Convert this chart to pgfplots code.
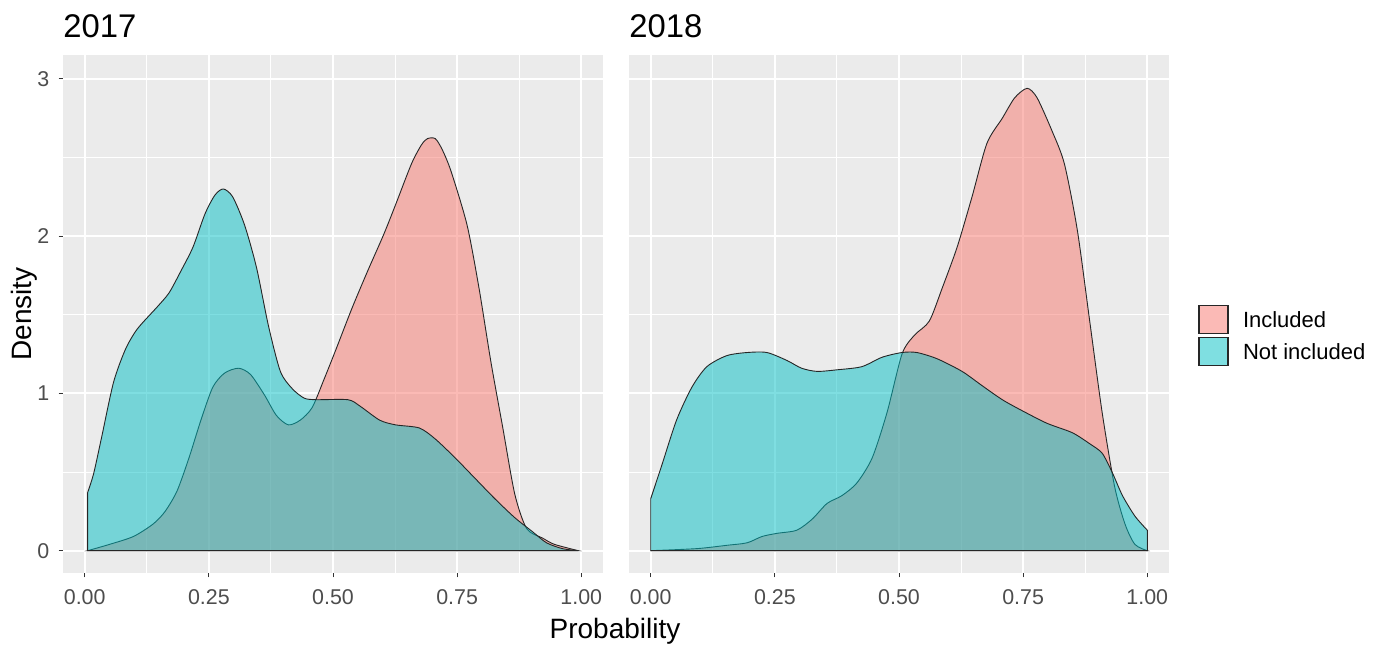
\documentclass[border=0pt]{standalone}
\usepackage{fontspec}
\setmainfont{Liberation Sans}
\usepackage{pgfplots}
\pgfplotsset{compat=1.18}
\definecolor{panelbg}{HTML}{EBEBEB}
\definecolor{incl}{HTML}{F8766D}
\definecolor{notincl}{HTML}{00BFC4}
\definecolor{ticklab}{HTML}{4D4D4D}
\definecolor{tickcol}{HTML}{333333}
\pgfplotsset{
  facet/.style={
    width=270pt, height=259pt, scale only axis,
    xmin=-0.0437, xmax=1.0437, ymin=-0.142, ymax=3.152,
    axis background/.style={fill=panelbg},
    axis line style={draw=none},
    xtick={0,0.25,0.5,0.75,1},
    ytick={0,1,2,3},
    minor xtick={0.125,0.375,0.625,0.875},
    minor ytick={0.5,1.5,2.5},
    grid=both,
    major grid style={white, line width=1.05pt},
    minor grid style={white, line width=0.5pt},
    minor tick length=0pt,
    major tick length=2.2pt,
    tick align=outside,
    xtick pos=lower, ytick pos=left,
    tick style={color=tickcol, line width=0.5pt},
    xticklabel style={font=\fontsize{10.7}{12}\selectfont, color=ticklab, inner sep=0pt, text depth=0pt, anchor=north, yshift=-6pt},
    yticklabel style={font=\fontsize{10.7}{12}\selectfont, color=ticklab, inner sep=0pt, text depth=0pt, anchor=east, xshift=-4.5pt},
    xticklabels={0.00,0.25,0.50,0.75,1.00},
    /pgf/number format/assume math mode=true,
    title style={at={(axis description cs:0,1.0332)}, anchor=base west, inner sep=0pt, yshift=-6pt, font=\fontsize{16.4}{19}\selectfont},
    every axis plot/.append style={line width=0.45pt, draw=black!85, fill opacity=0.5, smooth, tension=0.45},
  },
  inc/.style={fill=incl},
  notinc/.style={fill=notincl},
}
\begin{document}
\begin{tikzpicture}
\useasboundingbox (-31.5pt,-36.5pt) rectangle (655.5pt,286.5pt);
\begin{axis}[facet, title={2017},
  xlabel={Probability}, ylabel={Density},
  xlabel style={at={(axis description cs:1.0222,-0.1255)}, anchor=base, inner sep=0pt, font=\fontsize{14}{16}\selectfont},
  ylabel style={at={(axis description cs:-0.0722,0.5)}, anchor=center, rotate=0, inner sep=0pt, font=\fontsize{14}{16}\selectfont},
]
\addplot[inc] coordinates {(0.006,0) (0.05,0.04) (0.098,0.09) (0.138,0.17) (0.162,0.25) (0.186,0.38) (0.21,0.59) (0.234,0.83) (0.258,1.04) (0.282,1.13) (0.31,1.16) (0.334,1.12) (0.362,0.99) (0.386,0.86) (0.41,0.80) (0.434,0.83) (0.458,0.91) (0.482,1.09) (0.506,1.28) (0.538,1.54) (0.57,1.78) (0.602,2.01) (0.626,2.20) (0.658,2.46) (0.678,2.58) (0.69,2.62) (0.706,2.62) (0.72,2.55) (0.738,2.41) (0.77,2.07) (0.794,1.67) (0.818,1.20) (0.842,0.78) (0.866,0.36) (0.89,0.14) (0.922,0.08) (0.946,0.04) (0.994,0)} \closedcycle;
\addplot[notinc] coordinates {(0.006,0.37) (0.018,0.49) (0.034,0.72) (0.058,1.07) (0.082,1.28) (0.106,1.41) (0.146,1.55) (0.17,1.64) (0.194,1.78) (0.218,1.93) (0.242,2.14) (0.262,2.26) (0.279,2.30) (0.298,2.25) (0.322,2.07) (0.346,1.80) (0.37,1.43) (0.394,1.14) (0.418,1.03) (0.442,0.97) (0.466,0.96) (0.53,0.96) (0.554,0.92) (0.594,0.83) (0.626,0.80) (0.674,0.78) (0.706,0.71) (0.746,0.59) (0.786,0.46) (0.826,0.33) (0.866,0.21) (0.902,0.12) (0.93,0.05) (0.962,0.013) (0.994,0)} \closedcycle;
\end{axis}
\begin{axis}[facet, title={2018}, xshift=283pt,
  yticklabels={}, ytick style={draw=none},
  legend style={at={(1.0537,0.5212)}, anchor=north west, draw=none, fill=none, inner sep=0pt, row sep=0pt, column sep=0pt,
    nodes={inner sep=0pt, text depth=0pt, font=\fontsize{11}{13}\selectfont}, cells={anchor=west}},
  legend image code/.code={\path[draw=none,fill=none] (0pt,-8pt) rectangle (22pt,8pt); \draw[#1, line width=0.6pt] (0pt,-7pt) rectangle (14.5pt,7pt);},
]
\addplot[inc] coordinates {(0,0) (0.093,0.013) (0.153,0.034) (0.194,0.05) (0.224,0.09) (0.254,0.11) (0.294,0.13) (0.325,0.20) (0.355,0.30) (0.385,0.35) (0.415,0.43) (0.446,0.59) (0.476,0.88) (0.506,1.25) (0.531,1.37) (0.561,1.46) (0.587,1.67) (0.617,1.93) (0.647,2.25) (0.677,2.59) (0.708,2.75) (0.733,2.88) (0.758,2.94) (0.778,2.88) (0.808,2.67) (0.833,2.46) (0.859,2.04) (0.884,1.46) (0.909,0.88) (0.934,0.41) (0.955,0.17) (0.975,0.04) (1.0,0)} \closedcycle;
\addlegendentry{Included}
\addplot[notinc] coordinates {(0,0.33) (0.022,0.54) (0.052,0.83) (0.083,1.04) (0.113,1.17) (0.153,1.24) (0.194,1.26) (0.234,1.26) (0.274,1.21) (0.304,1.16) (0.335,1.14) (0.375,1.15) (0.425,1.17) (0.466,1.23) (0.506,1.26) (0.536,1.26) (0.577,1.22) (0.627,1.14) (0.667,1.05) (0.708,0.96) (0.748,0.89) (0.798,0.81) (0.849,0.75) (0.884,0.68) (0.909,0.62) (0.929,0.50) (0.95,0.35) (0.975,0.22) (1.0,0.13)} \closedcycle;
\addlegendentry{Not included}
\end{axis}
\end{tikzpicture}
\end{document}
